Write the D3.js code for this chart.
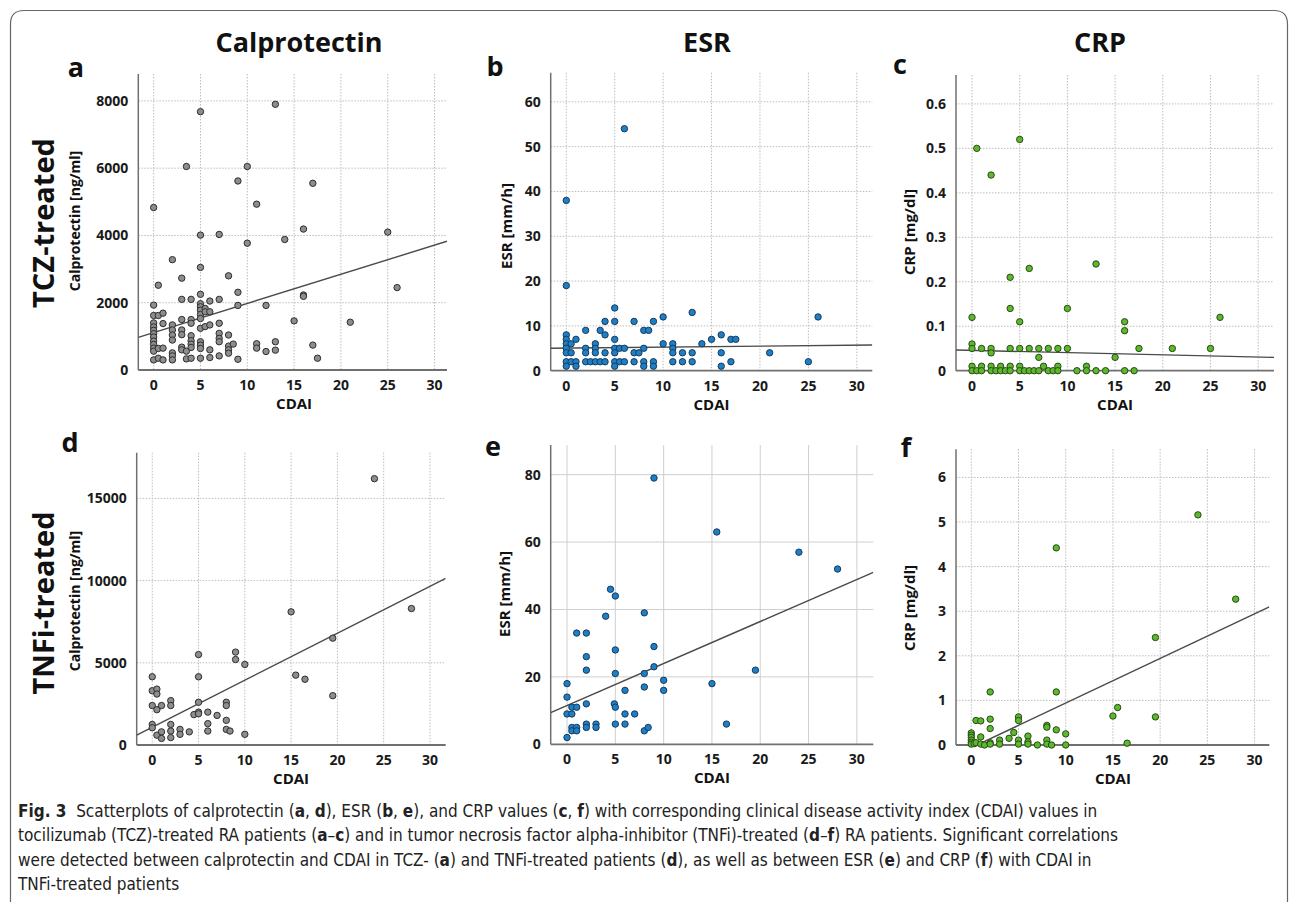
<!DOCTYPE html>
<html>
<head>
<meta charset="utf-8">
<script src="https://cdn.jsdelivr.net/npm/d3@7"></script>
<style>
  body { margin: 0; background: #fff; }
  svg { display: block; }
</style>
</head>
<body>
<svg id="fig" width="1293" height="902"></svg>
<script>
// ---- data ----
// a: TCZ, calprotectin vs CDAI
var tczCalX = [0,3.5,5,13,10,9,17,11,5,7,10,14,16,25,2,5,3,0.5,8,5,9,16,16,26,3,4,7,6,5,9,12,21,15,17,17.5,11,11,12,13,13,
  0,0,0,0,0,0,0,0,0,0,0,0,
  0.5,0.5,0.5,
  1,1,1,1,
  2,2,2,2,2,2,2,
  3,3,3,3,3,
  3.5,3.5,
  4,4,4,4,4,4,4,
  5,5,5,5,5,5,5,5,5,
  5.5,5.5,5.5,
  6,6,6,6,
  7,7,7,7,7,
  8,8,8,8,
  8.5,
  9];
var tczCalY = [4830,6050,7680,7900,6050,5620,5550,4930,4010,4030,3770,3880,4190,4100,3280,3050,2730,2520,2800,2250,2310,2230,2190,2450,2100,2100,2100,2050,1970,1920,1920,1420,1460,740,350,780,650,550,840,590,
  1930,1620,1400,1280,1180,1080,980,860,760,650,560,300,
  1620,640,350,
  1690,1380,650,300,
  1340,1190,1040,890,510,420,300,
  1500,1190,1050,680,600,
  560,330,
  1500,1390,1020,870,770,670,350,
  1880,1780,1650,1530,1240,840,740,640,350,
  1830,1730,1290,
  1730,1340,600,370,
  1390,1090,940,840,420,
  1040,710,600,500,
  770,
  320];

// b: TCZ, ESR vs CDAI
var tczEsrX = [0,0,0,0,0,0,0,0,0, 0.5,0.5,0.5, 1,1,1, 2,2,2,2, 2.5, 3,3,3,3, 3.5,3.5, 4,4,4,4,
  5,5,5,5,5,5,5, 5.5,5.5, 6,6,6, 7,7,7, 7.5, 8,8,8,8, 8.5, 9,9,9, 10,10, 11,11,11,11,
  12,12, 13,13,13, 14, 15, 16,16,16, 17,17, 17.5, 21, 25, 26];
var tczEsrY = [38,19,8,7,6,5,4,2,1, 6,4,2, 7,2,1, 9,5,4,2, 2, 6,5,4,2, 9,2, 11,8,4,2,
  14,11,7,5,4,2,1, 5,2, 54,5,2, 11,4,2, 4, 9,5,2,1, 9, 11,2,1, 12,6, 6,5,4,2,
  4,2, 13,4,2, 6, 7, 8,4,1, 7,2, 7, 4, 2, 12];

// c: TCZ, CRP vs CDAI
var tczCrpX = [0,0,0,0,0, 0.5,0.5, 1,1,1, 2,2,2,2,2, 2.5, 3,3, 3.5, 4,4,4,4,4, 5,5,5,5,5, 5.5,
  6,6,6, 6.5, 7,7,7, 7.5, 8,8, 8.5, 9,9,9, 10,10, 11, 12,12, 13,13, 14, 15, 16,16,16, 17, 17.5, 21, 25, 26];
var tczCrpY = [0.12,0.06,0.05,0.01,0, 0.5,0, 0.05,0.01,0, 0.44,0.05,0.04,0.01,0, 0, 0.01,0, 0, 0.21,0.14,0.05,0.01,0, 0.52,0.11,0.05,0.01,0, 0,
  0.23,0.05,0, 0, 0.05,0.03,0, 0.01, 0.05,0, 0, 0.05,0.01,0, 0.14,0.05, 0, 0.01,0, 0.24,0, 0, 0.03, 0.11,0.09,0, 0, 0.05, 0.05, 0.05, 0.12];

// d: TNFi, calprotectin vs CDAI
var tnfCalX = [0,0,0,0,0, 0.5,0.5,0.5,0.5, 1,1,1, 2,2,2,2,2, 3,3, 4, 4.5, 5,5,5,5,5, 6,6,6, 7, 8,8,8,8, 8.4,
  9,9, 10,10, 15, 15.5, 16.5, 19.5,19.5, 24, 28];
var tnfCalY = [4150,3300,2400,1250,1050, 3400,3100,2150,600, 2400,800,400, 2700,2400,1250,850,450, 950,650, 800, 1850, 5500,4150,2600,2000,1900, 2000,1300,850, 1800, 2600,2400,1500,950, 850,
  5650,5200, 4900,650, 8100, 4250, 4000, 6500,3000, 16200, 8300];

// e: TNFi, ESR vs CDAI
var tnfEsrX = [0,0,0,0, 0.5,0.5,0.5,0.5, 1,1,1,1, 2,2,2,2,2,2, 3,3, 4, 4.5, 4.9,5,5,5,5,5,
  6,6,6, 7, 8,8,8,8, 8.4, 9,9,9, 10,10, 15, 15.5, 16.5, 19.5, 24, 28];
var tnfEsrY = [18,14,9,2, 11,9,5,4, 33,11,5,4, 33,26,22,12,6,5, 6,5, 38, 46, 12,44,28,21,11,6,
  16,9,6, 9, 39,21,17,4, 5, 79,29,23, 19,16, 18, 63, 6, 22, 57, 52];

// f: TNFi, CRP vs CDAI
var tnfCrpX = [0,0,0,0,0,0, 0.3, 0.5,0.5, 1,1,1, 1.4, 2,2,2,2,2, 3,3, 4, 4.5, 5,5,5,5, 6,6,6, 7,
  8,8,8,8, 8.5, 9,9,9, 10,10, 15, 15.5, 16.5, 19.5,19.5, 24, 28];
var tnfCrpY = [0.27,0.22,0.17,0.11,0.06,0.02, 0.03, 0.55,0.05, 0.54,0.18,0.02, 0, 1.19,0.58,0.37,0.05,0.02, 0.11,0.02, 0.15, 0.28, 0.63,0.55,0.11,0.02, 0.2,0.07,0.02, 0,
  0.44,0.4,0.11,0.02, 0, 4.42,1.19,0.34, 0.25,0, 0.65, 0.84, 0.04, 2.41,0.63, 5.16, 3.27];

// fit lines: [intercept, slope]
var fitA = [1114, 86.6];
var fitB = [5.04, 0.022];
var fitC = [0.0457, -0.0005];
var fitD = [1082, 285.7];
var fitE = [11.49, 1.247];
var fitF = [-0.06, 0.1];

// tick labels
var cdaiTicks = [0, 5, 10, 15, 20, 25, 30];
var calTicksA = [0, 2000, 4000, 6000, 8000];
var esrTicksB = [0, 10, 20, 30, 40, 50, 60];
var crpTicksC = [0, 0.1, 0.2, 0.3, 0.4, 0.5, 0.6];
var calTicksD = [0, 5000, 10000, 15000];
var esrTicksE = [0, 20, 40, 60, 80];
var crpTicksF = [0, 1, 2, 3, 4, 5, 6];

var colTitles = ["Calprotectin", "ESR", "CRP"];
var rowTitles = ["TCZ-treated", "TNFi-treated"];
var yTitles = ["Calprotectin [ng/ml]", "ESR [mm/h]", "CRP [mg/dl]"];

// ---- layout ----
var svg = d3.select("#fig");
var FONT = "'Open Sans', 'DejaVu Sans', sans-serif";

// figure box
svg.append("path")
  .attr("d", "M10.5,902 L10.5,24 Q10.5,10.5 24,10.5 L1274,10.5 Q1287.5,10.5 1287.5,24 L1287.5,902")
  .attr("fill", "none")
  .attr("stroke", "#666")
  .attr("stroke-width", 1.2);

var panels = [
  {id:"a", xs:tczCalX, ys:tczCalY, fit:fitA, yt:calTicksA, col:0, row:0, fill:"#8d8d8d", stroke:"#2e2e2e",
   box:[138.3, 74, 447, 370], xd:[-1.64, 31.33], yd:[0, 8800], fmt:d3.format("d"), solid:false,
   letter:[76, 77], ylab:[75, 221], ylabSize:14},
  {id:"b", xs:tczEsrX, ys:tczEsrY, fit:fitB, yt:esrTicksB, col:1, row:0, fill:"#1f7fc6", stroke:"#163b5c",
   box:[550.7, 72.7, 872.3, 370.7], xd:[-1.61, 31.6], yd:[0, 66.5], fmt:d3.format("d"), solid:false,
   letter:[495, 76], ylab:[507, 226], ylabSize:15},
  {id:"c", xs:tczCrpX, ys:tczCrpY, fit:fitC, yt:crpTicksC, col:2, row:0, fill:"#5cb82c", stroke:"#2a4a18",
   box:[956, 75, 1274, 370.7], xd:[-1.68, 31.66], yd:[0, 0.665], fmt:function(v){ return v === 0 ? "0" : d3.format(".1f")(v); }, solid:false,
   letter:[900, 74], ylab:[910, 232], ylabSize:15},
  {id:"d", xs:tnfCalX, ys:tnfCalY, fit:fitD, yt:calTicksD, col:0, row:1, fill:"#8d8d8d", stroke:"#2e2e2e",
   box:[136.7, 452.7, 445.7, 745], xd:[-1.68, 31.7], yd:[0, 17780], fmt:d3.format("d"), solid:false,
   letter:[70, 452], ylab:[75, 601], ylabSize:14},
  {id:"e", xs:tnfEsrX, ys:tnfEsrY, fit:fitE, yt:esrTicksE, col:1, row:1, fill:"#1f7fc6", stroke:"#163b5c",
   box:[550.7, 445, 873.3, 744.3], xd:[-1.69, 31.7], yd:[0, 88.8], fmt:d3.format("d"), solid:true,
   letter:[493, 456], ylab:[505, 594], ylabSize:15},
  {id:"f", xs:tnfCrpX, ys:tnfCrpY, fit:fitF, yt:crpTicksF, col:2, row:1, fill:"#5cb82c", stroke:"#2a4a18",
   box:[956, 449.3, 1269.3, 745], xd:[-1.62, 31.56], yd:[0, 6.63], fmt:d3.format("d"), solid:false,
   letter:[906, 457], ylab:[910, 608], ylabSize:15}
];

panels.forEach(function(p) {
  var x = d3.scaleLinear().domain(p.xd).range([p.box[0], p.box[2]]);
  var y = d3.scaleLinear().domain(p.yd).range([p.box[3], p.box[1]]);
  var g = svg.append("g");

  // clip for the fit line
  svg.append("clipPath").attr("id", "clip-" + p.id)
    .append("rect")
      .attr("x", p.box[0]).attr("y", p.box[1])
      .attr("width", p.box[2] - p.box[0]).attr("height", p.box[3] - p.box[1]);

  // grid
  var gridColor = p.solid ? "#cfcfcf" : "#bdbdbd";
  g.selectAll(".vg").data(cdaiTicks).enter().append("line")
    .attr("x1", function(d){ return x(d); }).attr("x2", function(d){ return x(d); })
    .attr("y1", p.box[1]).attr("y2", p.box[3])
    .attr("stroke", gridColor).attr("stroke-width", 1)
    .attr("stroke-dasharray", p.solid ? null : "1.5,1.5");
  g.selectAll(".hg").data(p.yt.filter(function(d){ return d > 0; })).enter().append("line")
    .attr("x1", p.box[0]).attr("x2", p.box[2])
    .attr("y1", function(d){ return y(d); }).attr("y2", function(d){ return y(d); })
    .attr("stroke", gridColor).attr("stroke-width", 1)
    .attr("stroke-dasharray", p.solid ? null : "1.5,1.5");

  // axes lines
  g.append("line")
    .attr("x1", p.box[0]).attr("x2", p.box[0]).attr("y1", p.box[1]).attr("y2", p.box[3])
    .attr("stroke", "#707070").attr("stroke-width", 1.5);
  g.append("line")
    .attr("x1", p.box[0]).attr("x2", p.box[2]).attr("y1", p.box[3]).attr("y2", p.box[3])
    .attr("stroke", "#707070").attr("stroke-width", 1.8);

  // tick labels
  g.selectAll(".xt").data(cdaiTicks).enter().append("text")
    .attr("x", function(d){ return x(d); })
    .attr("y", p.box[3] + 20)
    .attr("text-anchor", "middle")
    .style("font-family", FONT).style("font-weight", 700).style("font-size", "14px")
    .attr("fill", "#1a1a1a")
    .text(function(d){ return d; });
  g.selectAll(".yt").data(p.yt).enter().append("text")
    .attr("x", p.box[0] - 10)
    .attr("y", function(d){ return y(d) + 5; })
    .attr("text-anchor", "end")
    .style("font-family", FONT).style("font-weight", 700).style("font-size", "14px")
    .attr("fill", "#1a1a1a")
    .text(p.fmt);

  // axis titles
  g.append("text")
    .attr("x", x(15)).attr("y", p.box[3] + 39)
    .attr("text-anchor", "middle")
    .style("font-family", FONT).style("font-weight", 700).style("font-size", "15px")
    .attr("fill", "#111")
    .text("CDAI");
  g.append("text")
    .attr("transform", "translate(" + (p.ylab[0] + 5) + "," + p.ylab[1] + ") rotate(-90)")
    .attr("text-anchor", "middle")
    .style("font-family", FONT).style("font-weight", 700).style("font-size", p.ylabSize + "px")
    .attr("fill", "#111")
    .text(yTitles[p.col]);

  // panel letter
  g.append("text")
    .attr("x", p.letter[0]).attr("y", p.letter[1])
    .attr("text-anchor", "middle")
    .style("font-family", FONT).style("font-weight", 700).style("font-size", "27px")
    .attr("fill", "#111")
    .text(p.id);

  // fit line
  g.append("line")
    .attr("clip-path", "url(#clip-" + p.id + ")")
    .attr("x1", x(p.xd[0])).attr("y1", y(p.fit[0] + p.fit[1] * p.xd[0]))
    .attr("x2", x(p.xd[1])).attr("y2", y(p.fit[0] + p.fit[1] * p.xd[1]))
    .attr("stroke", "#4a4a4a").attr("stroke-width", 1.4);

  // points
  g.selectAll(".pt").data(p.xs).enter().append("circle")
    .attr("cx", function(d){ return x(d); })
    .attr("cy", function(d, i){ return y(p.ys[i]); })
    .attr("r", 3.2)
    .attr("fill", p.fill)
    .attr("stroke", p.stroke)
    .attr("stroke-width", 1);
});

// column titles
var colCenters = [299, 707, 1100];
colTitles.forEach(function(t, i) {
  svg.append("text")
    .attr("x", colCenters[i]).attr("y", 52)
    .attr("text-anchor", "middle")
    .style("font-family", FONT).style("font-weight", 700).style("font-size", "27px")
    .attr("fill", "#111")
    .text(t);
});

// row titles
var rowCenters = [223, 603];
rowTitles.forEach(function(t, i) {
  svg.append("text")
    .attr("transform", "translate(54," + rowCenters[i] + ") rotate(-90)")
    .attr("text-anchor", "middle")
    .style("font-family", FONT).style("font-weight", 700).style("font-size", "29px")
    .attr("fill", "#111")
    .text(t);
});

// caption: one font size for all lines, fitted so line 1 ends where it does in the figure
var CAP = "'DejaVu Sans Condensed', 'Liberation Sans Narrow', 'Open Sans', sans-serif";
var capLines = [
  {y: 817, parts: [["Fig. 3", 1], ["  Scatterplots of calprotectin (", 0], ["a", 1], [", ", 0], ["d", 1], ["), ESR (", 0], ["b", 1], [", ", 0], ["e", 1], ["), and CRP values (", 0], ["c", 1], [", ", 0], ["f", 1], [") with corresponding clinical disease activity index (CDAI) values in", 0]]},
  {y: 841, parts: [["tocilizumab (TCZ)-treated RA patients (", 0], ["a", 1], ["–", 0], ["c", 1], [") and in tumor necrosis factor alpha-inhibitor (TNFi)-treated (", 0], ["d", 1], ["–", 0], ["f", 1], [") RA patients. Significant correlations", 0]]},
  {y: 866, parts: [["were detected between calprotectin and CDAI in TCZ- (", 0], ["a", 1], [") and TNFi-treated patients (", 0], ["d", 1], ["), as well as between ESR (", 0], ["e", 1], [") and CRP (", 0], ["f", 1], [") with CDAI in", 0]]},
  {y: 890, parts: [["TNFi-treated patients", 0]]}
];
var capTexts = capLines.map(function(l) {
  var t = svg.append("text")
    .attr("x", 18).attr("y", l.y)
    .style("font-family", CAP).style("font-size", "16px")
    .attr("fill", "#222")
    .style("white-space", "pre");
  l.parts.forEach(function(pt) {
    t.append("tspan")
      .style("font-weight", pt[1] ? 700 : 400)
      .text(pt[0]);
  });
  return t;
});
var w1 = capTexts[0].node().getComputedTextLength();
var capSize = Math.min(17, 16 * 1139 / w1);
capTexts.forEach(function(t) { t.style("font-size", capSize + "px"); });
</script>
</body>
</html>
